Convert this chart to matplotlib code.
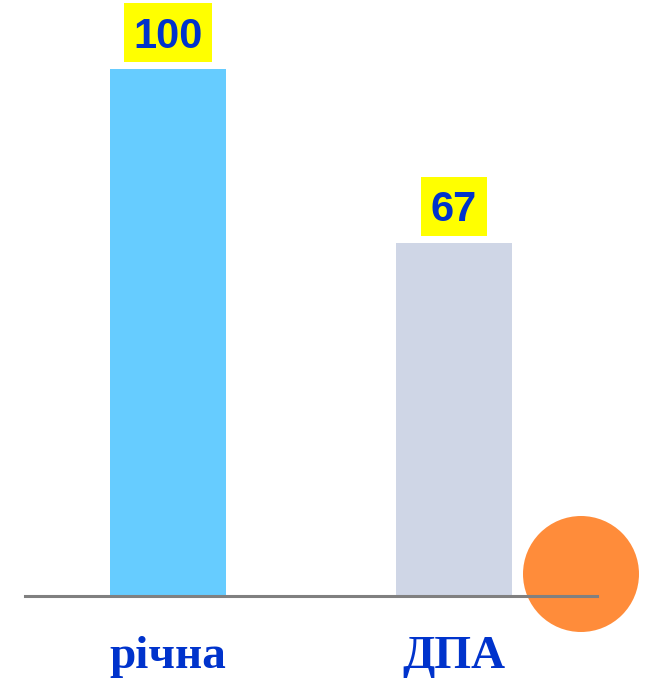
import matplotlib
matplotlib.use("Agg")
import matplotlib.pyplot as plt
from matplotlib.patches import Ellipse
from matplotlib.path import Path

categories = ["річна", "ДПА"]
values = [100, 67]
bar_colors = ["#66CCFF", "#CFD6E6"]

W, H = 645, 685
fig = plt.figure(figsize=(W / 100, H / 100), dpi=100)
ax = fig.add_axes([25 / W, (H - 596) / H, 572 / W, 527 / H])
ax.set_facecolor("none")

x = list(range(len(categories)))
ax.bar(x, values, width=0.406, color=bar_colors, zorder=1)
ax.set_xlim(-0.5, 1.5)
ax.set_ylim(0, 100)

for s in ["top", "right", "left"]:
    ax.spines[s].set_visible(False)
ax.spines["bottom"].set_color("#808080")
ax.spines["bottom"].set_linewidth(2.2)
ax.spines["bottom"].set_zorder(5)
ax.set_yticks([])
ax.set_xticks(x)
ax.set_xticklabels(categories, fontsize=34, fontweight="bold",
                   family=["Liberation Serif", "DejaVu Serif"], color="#0033CC")
ax.tick_params(axis="x", length=0, pad=29)


def label_box(x0, y0, width, height, mutation_size):
    px = 0.23 * mutation_size
    pb = 0.13 * mutation_size
    pt = 0.33 * mutation_size
    x1, y1 = x0 - px, y0 - pb
    x2, y2 = x0 + width + px, y0 + height + pt
    return Path([(x1, y1), (x2, y1), (x2, y2), (x1, y2), (x1, y1)], closed=True)


for xi, v in zip(x, values):
    ax.annotate(str(v), xy=(xi, v), xytext=(0, 9), textcoords="offset points",
                ha="center", va="bottom", fontsize=30, fontweight="bold",
                family=["Liberation Sans", "DejaVu Sans"], color="#0033CC",
                bbox=dict(boxstyle=label_box, fc="#FFFF00", ec="none"),
                annotation_clip=False, zorder=6)

circle = Ellipse((581 / W, (H - 574) / H), 116 / W, 116 / H, transform=fig.transFigure,
                 facecolor="#FF8C3A", edgecolor="none", clip_on=False, zorder=2)
ax.add_artist(circle)

fig.savefig("out.png", dpi=100)
